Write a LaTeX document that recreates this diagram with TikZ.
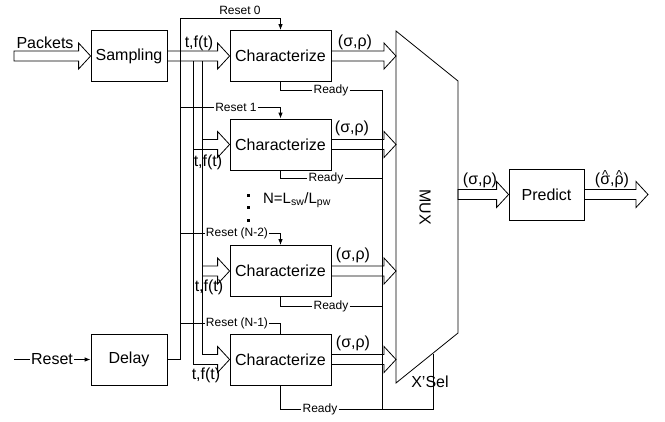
\documentclass[tikz,border=0pt]{standalone}
\usepackage{fontspec}
\setmainfont{Liberation Sans}
\usetikzlibrary{arrows.meta,calc}
\tikzset{
  box/.style={draw, line width=0.8pt, minimum height=51pt, font=\fontsize{16}{18}\selectfont, inner sep=0pt},
  lbl/.style={font=\fontsize{16}{18}\selectfont, inner sep=1pt},
  slbl/.style={font=\fontsize{12}{14}\selectfont, inner sep=1pt},
  wire/.style={line width=0.8pt},
  sig/.style={wire, -{Latex[length=6pt,width=4.5pt]}},
  blk/.style={line width=0.8pt, line join=miter},
}
\newcommand{\blockarr}[2]{%
  \draw[blk] let \p1=(#1), \p2=(#2) in
   (\x1,\y1+5pt) -- (\x2-12pt,\y1+5pt) -- (\x2-12pt,\y1+13pt) -- (\x2,\y1)
   -- (\x2-12pt,\y1-13pt) -- (\x2-12pt,\y1-5pt) -- (\x1,\y1-5pt) -- cycle;}
\newcommand{\brancharr}[3]{%
  \draw[blk] let \p1=(#1.west), \p2=(#2), \p3=(#3) in
   (\x2,\y1+5pt) -- (\x1-12pt,\y1+5pt) -- (\x1-12pt,\y1+13pt) -- (\x1,\y1)
   -- (\x1-12pt,\y1-13pt) -- (\x1-12pt,\y1-5pt) -- (\x3,\y1-5pt);}
\newcommand{\hatch}[1]{\ooalign{#1\cr\hidewidth\raisebox{0.3em}{\fontsize{13}{13}\selectfont\textasciicircum}\hidewidth\cr}}
\begin{document}
\begin{tikzpicture}[x=1pt,y=-1pt]
\useasboundingbox (0,0) rectangle (665,421);
% boxes
\node[box, minimum width=76pt] (samp) at (129,56) {Sampling};
\node[box, minimum width=76pt] (delay) at (129,359.5) {Delay};
\node[box, minimum width=101pt] (c0) at (280.5,56) {Characterize};
\node[box, minimum width=101pt] (c1) at (280.5,144.5) {Characterize};
\node[box, minimum width=101pt] (c2) at (280.5,271) {Characterize};
\node[box, minimum width=101pt] (c3) at (280.5,359.5) {Characterize};
\node[box, minimum width=75pt, minimum height=51pt] (pred) at (546.5,194.5) {Predict};
% MUX
\coordinate (m1) at (396,31);
\coordinate (m2) at (458,81);
\coordinate (m3) at (458,333);
\coordinate (m4) at (396,383);
\draw[wire] (m1) -- (m2) -- (m3) -- (m4) -- cycle;
\node[lbl, rotate=-90] (muxl) at (425,207) {MUX};
% coordinates of buses
\coordinate (pin) at (14,56);
\coordinate (rin) at (14,359.5);
\coordinate (rtop) at (180,18);
\coordinate (rbus) at (180,0);
\coordinate (busA) at (193,0);
\coordinate (busB) at (202,0);
\coordinate (rdbus) at (382,0);
\coordinate (xs) at (433,354);
\coordinate (out) at (648,194.5);
% packets input
\blockarr{pin}{samp.west}
\node[lbl] (pk) at (45,43) {Packets};
% sampling to c0
\blockarr{samp.east}{c0.west}
\node[lbl] (tf0) at (199,43) {t,f(t)};
% t,f(t) bus
\draw[wire] (193,61) -- (193,364.5);
\draw[wire] (202,61) -- (202,354.5);
\brancharr{c1}{busB}{busA}
\brancharr{c2}{busB}{busB}
\brancharr{c3}{busB}{busA}
\node[lbl] (tf1) at (208,162) {t,f(t)};
\node[lbl] (tf2) at (209,287) {t,f(t)};
\node[lbl] (tf3) at (206,375) {t,f(t)};
% reset input
\node[lbl] (rs) at (52,359.5) {Reset};
\draw[wire] (rin) -- (rs.west);
\draw[sig] (rs.east) -- (delay.west);
% reset bus
\draw[sig] (delay.east) -| (rtop) -- (rtop -| c0.north) -- (c0.north);
\node[slbl] (r0) at (240,10) {Reset 0};
\node[slbl] (r1) at (236,107) {Reset 1};
\node[slbl] (r2) at (237,233) {Reset (N-2)};
\node[slbl] (r3) at (237,323) {Reset (N-1)};
\draw[wire] (r1.west -| rbus) -- (r1.west);
\draw[sig] (r1.east) -| (c1.north);
\draw[wire] (r2.west -| rbus) -- (r2.west);
\draw[sig] (r2.east) -| (c2.north);
\draw[wire] (r3.west -| rbus) -- (r3.west);
\draw[wire] (r3.east) -| (c3.north);
% outputs of characterize
\blockarr{c0.east}{c0.east -| m1}
\blockarr{c1.east}{c1.east -| m1}
\blockarr{c2.east}{c2.east -| m1}
\blockarr{c3.east}{c3.east -| m1}
\node[lbl] (s0) at (355,42) {(σ,ρ)};
\node[lbl] (s1) at (352,128) {(σ,ρ)};
\node[lbl] (s2) at (353,255) {(σ,ρ)};
\node[lbl] (s3) at (353,343) {(σ,ρ)};
% ready lines
\node[slbl] (rd0) at (331,90) {Ready};
\node[slbl] (rd1) at (326,178) {Ready};
\node[slbl] (rd2) at (331,306) {Ready};
\node[slbl] (rd3) at (320,409) {Ready};
\draw[wire] (c0.south) |- (rd0.west);
\draw[wire] (c1.south) |- (rd1.west);
\draw[wire] (c2.south) |- (rd2.west);
\draw[wire] (c3.south) |- (rd3.west);
\draw[wire] (rd0.east) -- (rd0.east -| rdbus) -- (rd3.east -| rdbus);
\draw[wire] (rd1.east) -- (rd1.east -| rdbus);
\draw[wire] (rd2.east) -- (rd2.east -| rdbus);
\draw[wire] (rd3.east) -| (xs);
\node[lbl] (xsel) at (430,382) {X’Sel};
% dots and N label
\fill (246.5,194) rectangle (249.5,197);
\fill (246.5,205.5) rectangle (249.5,208.5);
\fill (246.5,218.5) rectangle (249.5,221.5);
\node[font=\fontsize{15}{17}\selectfont, inner sep=0pt] (nlab) at (297,200) {N=L\textsubscript{sw}/L\textsubscript{pw}};
% mux output and predict
\blockarr{pred.west -| m2}{pred.west}
\node[lbl] (sm) at (480,180) {(σ,ρ)};
\blockarr{pred.east}{out}
\node[lbl] (sh) at (612,180) {(\hatch{σ},\hatch{ρ})};
\end{tikzpicture}
\end{document}
